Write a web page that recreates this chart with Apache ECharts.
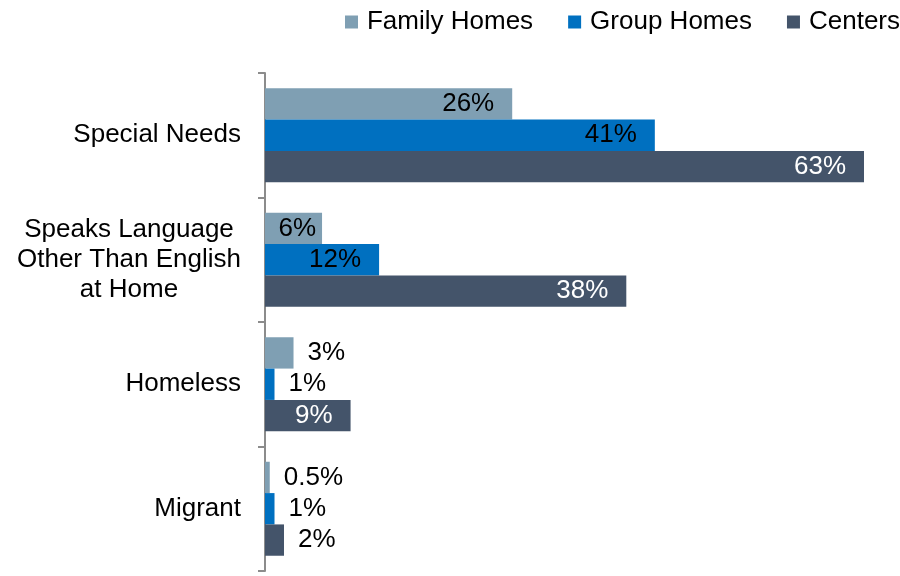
<!DOCTYPE html>
<html>
<head>
<meta charset="utf-8">
<script src="https://cdn.jsdelivr.net/npm/echarts@6/dist/echarts.min.js"></script>
<style>
  html, body { margin: 0; padding: 0; background: #fff; }
  #chart { width: 900px; height: 576px; }
</style>
</head>
<body>
<div id="chart"></div>
<script>
const categories = ['Special Needs', 'Speaks Language\nOther Than English\nat Home', 'Homeless', 'Migrant']
const seriesNames = ['Family Homes', 'Group Homes', 'Centers']
const familyHomes = [26, 6, 3, 0.5]
const groupHomes = [41, 12, 1, 1]
const centers = [63, 38, 9, 2]
const colors = ['#7f9fb3', '#0070c0', '#44546a']
const insideColors = ['#000', '#000', '#fff']

const FONT = '"Liberation Sans", Arial, sans-serif'

// big bars carry their label inside the end, small ones just past it
const items = (vals, si) => vals.map(v => {
  const inside = v >= 5
  return {
    value: v,
    label: {
      position: inside ? 'insideRight' : 'right',
      distance: inside ? (v < 8 ? 6 : 18) : 14,
      color: inside ? insideColors[si] : '#000',
    },
  }
})

// multi-line category names are centred within their own block
const catLabel = v => v.indexOf('\n') < 0 ? v : v.split('\n').map(s => `{c|${s}}`).join('\n')

const chart = echarts.init(document.getElementById('chart'))
chart.setOption({
  animation: false,
  backgroundColor: '#fff',
  textStyle: { fontFamily: FONT },
  legend: {
    top: 9, right: 0, padding: 0,
    itemWidth: 13, itemHeight: 13, itemGap: 35,
    icon: 'rect',
    textStyle: { fontSize: 26, color: '#000', fontFamily: FONT, padding: [0, 0, 0, 4] },
    data: seriesNames,
  },
  grid: { left: 265, right: 36, top: 73, bottom: 5, containLabel: false },
  xAxis: { type: 'value', min: 0, max: 63, show: false },
  yAxis: {
    type: 'category', inverse: true, data: categories,
    axisLine: { show: true, lineStyle: { color: '#8c8c8c', width: 2 } },
    axisTick: { show: true, length: 7, lineStyle: { color: '#8c8c8c', width: 2 } },
    axisLabel: {
      fontSize: 26, color: '#000', margin: 24, lineHeight: 30, fontFamily: FONT,
      formatter: catLabel,
      rich: { c: { width: 224, align: 'center', fontSize: 26, lineHeight: 30, color: '#000', fontFamily: FONT } },
    },
    splitLine: { show: false },
  },
  series: [familyHomes, groupHomes, centers].map((vals, si) => ({
    name: seriesNames[si], type: 'bar',
    data: items(vals, si),
    barGap: '0%', barCategoryGap: '24.5%',
    itemStyle: { color: colors[si] },
    label: { show: true, fontSize: 26, fontFamily: FONT, formatter: p => p.value + '%' },
  })),
})
</script>
</body>
</html>
